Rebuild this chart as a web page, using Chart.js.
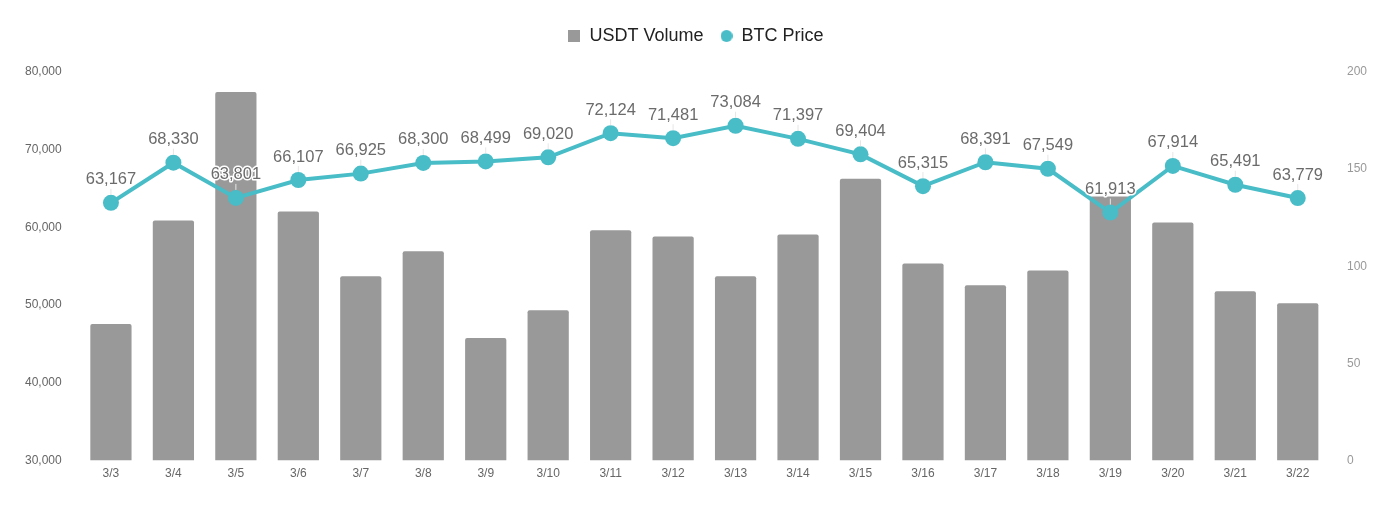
<!DOCTYPE html>
<html>
<head>
<meta charset="utf-8">
<script src="https://cdn.jsdelivr.net/npm/chart.js@4"></script>
<style>
  html, body { margin: 0; padding: 0; background: #fff; }
  #wrap { width: 1393px; height: 506px; }
</style>
</head>
<body>
<div id="wrap"><canvas id="chart" width="1393" height="506"></canvas></div>
<script>
// chart data
const days = ['3/3', '3/4', '3/5', '3/6', '3/7', '3/8', '3/9', '3/10', '3/11', '3/12',
              '3/13', '3/14', '3/15', '3/16', '3/17', '3/18', '3/19', '3/20', '3/21', '3/22'];
const usdtVolume = [70.3, 123.6, 189.7, 128.2, 94.9, 107.7, 63.1, 77.4, 118.5, 115.4,
                    94.9, 116.4, 145.1, 101.5, 90.3, 97.9, 135.9, 122.6, 87.2, 81.0];
const btcPrice = [63167, 68330, 63801, 66107, 66925, 68300, 68499, 69020, 72124, 71481,
                  73084, 71397, 69404, 65315, 68391, 67549, 61913, 67914, 65491, 63779];
const priceTicks = [30000, 80000, 10000];
const volumeTicks = [0, 200, 50];

const FONT = '"Liberation Sans", Arial, sans-serif';
const GREY = '#999999';
const TEAL = '#48bcc7';

// small legend markers (12px square and circle)
function marker(shape, color) {
  const c = document.createElement('canvas');
  c.width = 12; c.height = 12;
  const g = c.getContext('2d');
  g.fillStyle = color;
  if (shape === 'rect') g.fillRect(0, 0, 12, 12);
  else { g.beginPath(); g.arc(6, 6, 6, 0, Math.PI * 2); g.fill(); }
  return c;
}

// extra room under the legend
const legendGap = {
  id: 'legendGap',
  beforeInit(chart) {
    const fit = chart.legend.fit;
    chart.legend.fit = function () {
      fit.bind(chart.legend)();
      this.height += 17;
    };
  }
};

// value labels above the line points, with white halo and a small leader
const pointLabels = {
  id: 'pointLabels',
  afterDatasetsDraw(chart) {
    const ctx = chart.ctx;
    const meta = chart.getDatasetMeta(1);
    ctx.save();
    ctx.font = '16.5px ' + FONT;
    ctx.textAlign = 'center';
    ctx.textBaseline = 'middle';
    meta.data.forEach((pt, i) => {
      const txt = btcPrice[i].toLocaleString('en-US');
      const ly = pt.y - 23;
      ctx.strokeStyle = '#e6e6e6';
      ctx.lineWidth = 1;
      ctx.beginPath();
      ctx.moveTo(pt.x, ly + 9);
      ctx.lineTo(pt.x, pt.y - 8);
      ctx.stroke();
      ctx.lineJoin = 'round';
      ctx.strokeStyle = '#fff';
      ctx.lineWidth = 3;
      ctx.strokeText(txt, pt.x, ly);
      ctx.fillStyle = '#6b6b6b';
      ctx.fillText(txt, pt.x, ly);
    });
    ctx.restore();
  }
};

new Chart(document.getElementById('chart'), {
  data: {
    labels: days,
    datasets: [
      {
        type: 'bar',
        label: 'USDT Volume',
        data: usdtVolume,
        yAxisID: 'y1',
        backgroundColor: GREY,
        borderRadius: 2,
        borderSkipped: 'bottom',
        categoryPercentage: 0.66,
        barPercentage: 1,
        pointStyle: marker('rect', GREY),
        order: 2
      },
      {
        type: 'line',
        label: 'BTC Price',
        data: btcPrice,
        yAxisID: 'y',
        borderColor: TEAL,
        backgroundColor: TEAL,
        borderWidth: 4,
        pointRadius: 8,
        pointHoverRadius: 8,
        pointBorderWidth: 0,
        pointStyle: 'circle',
        tension: 0,
        order: 1
      }
    ]
  },
  options: {
    responsive: false,
    animation: false,
    layout: { padding: { left: 15, right: 16, top: 10, bottom: 27 } },
    plugins: {
      legend: {
        position: 'top',
        labels: {
          usePointStyle: true,
          boxWidth: 12,
          boxHeight: 12,
          padding: 17,
          color: '#222',
          font: { size: 18, family: FONT },
          sort: (a, b) => a.datasetIndex - b.datasetIndex,
          generateLabels(chart) {
            const items = Chart.defaults.plugins.legend.labels.generateLabels(chart);
            items.forEach(it => {
              it.pointStyle = it.datasetIndex === 0 ? marker('rect', GREY) : marker('circle', TEAL);
            });
            return items;
          }
        }
      },
      tooltip: { enabled: false }
    },
    scales: {
      x: {
        grid: { display: false },
        border: { display: false },
        ticks: { color: '#666', font: { size: 12, family: FONT }, padding: -2 }
      },
      y: {
        position: 'left',
        min: priceTicks[0],
        max: priceTicks[1],
        grid: { display: false },
        border: { display: false },
        ticks: {
          stepSize: priceTicks[2],
          color: '#666',
          padding: 10,
          font: { size: 12, family: FONT },
          callback: v => v.toLocaleString('en-US')
        }
      },
      y1: {
        position: 'right',
        min: volumeTicks[0],
        max: volumeTicks[1],
        grid: { display: false },
        border: { display: false },
        ticks: {
          stepSize: volumeTicks[2],
          color: '#999',
          padding: 10,
          font: { size: 12, family: FONT }
        }
      }
    }
  },
  plugins: [pointLabels, legendGap]
});
</script>
</body>
</html>
